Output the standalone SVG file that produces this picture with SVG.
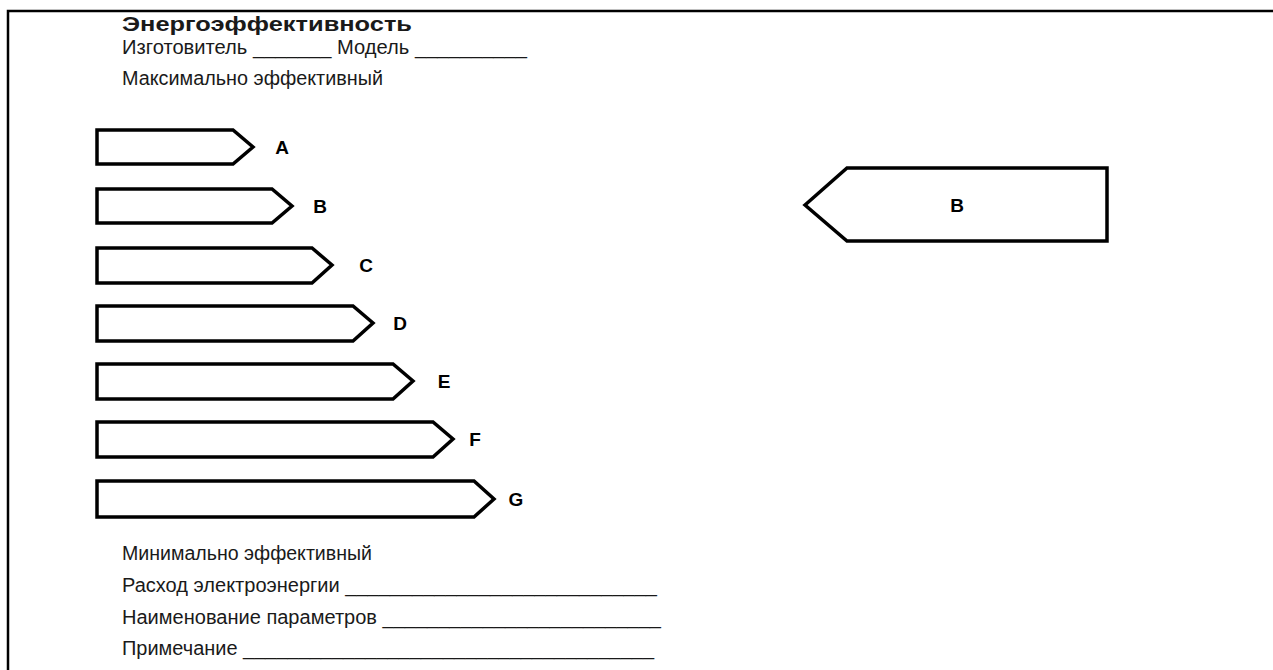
<svg xmlns="http://www.w3.org/2000/svg" width="1273" height="670" viewBox="0 0 1273 670">
  <style>
    .frame { fill: none; stroke: #000; stroke-width: 2.5; }
    .bar { fill: #fff; stroke: #000; stroke-width: 3.5; stroke-linejoin: miter; }
    .txt { font-family: "Liberation Sans", Arial, sans-serif; font-size: 20px; fill: #1a1a1a; }
    .title { font-weight: bold; }
    .cls { font-family: "Liberation Sans", Arial, sans-serif; font-size: 19px; font-weight: bold; fill: #000; text-anchor: middle; }
  </style>
  <rect width="1273" height="670" fill="#fff"/>

  <!-- page frame: top and left rules -->
  <path class="frame" d="M1273,11 H8 V670"/>

  <!-- header texts -->
  <g id="header">
    <text class="txt title" x="122" y="31" textLength="290" lengthAdjust="spacingAndGlyphs">Энергоэффективность</text>
    <text class="txt" x="122" y="54" textLength="405" lengthAdjust="spacingAndGlyphs">Изготовитель _______ Модель __________</text>
    <text class="txt" x="122" y="85" textLength="261" lengthAdjust="spacingAndGlyphs">Максимально эффективный</text>
  </g>

  <!-- efficiency class bars -->
  <g id="class-A">
    <polygon class="bar" points="97,130 233,130 253,147 233,164 97,164"/>
    <text class="cls" x="282" y="154">A</text>
  </g>
  <g id="class-B">
    <polygon class="bar" points="97,189 272,189 292,206 272,223 97,223"/>
    <text class="cls" x="320" y="213">B</text>
  </g>
  <g id="class-C">
    <polygon class="bar" points="97,248 312,248 332,265 312,283 97,283"/>
    <text class="cls" x="366" y="272">C</text>
  </g>
  <g id="class-D">
    <polygon class="bar" points="97,306 353,306 373,323 353,341 97,341"/>
    <text class="cls" x="400" y="330">D</text>
  </g>
  <g id="class-E">
    <polygon class="bar" points="97,364 393,364 413,381 393,399 97,399"/>
    <text class="cls" x="444" y="388">E</text>
  </g>
  <g id="class-F">
    <polygon class="bar" points="97,422 433,422 453,439 433,457 97,457"/>
    <text class="cls" x="475" y="446">F</text>
  </g>
  <g id="class-G">
    <polygon class="bar" points="97,481 474,481 494,499 474,517 97,517"/>
    <text class="cls" x="516" y="506">G</text>
  </g>

  <!-- current class indicator -->
  <g id="indicator">
    <polygon class="bar" points="805,205 847,168 1107,168 1107,241 847,241"/>
    <text class="cls" x="957" y="212" font-size="21">B</text>
  </g>

  <!-- footer texts -->
  <g id="footer">
    <text class="txt" x="122" y="560" textLength="250" lengthAdjust="spacingAndGlyphs">Минимально эффективный</text>
    <text class="txt" x="122" y="592" textLength="535" lengthAdjust="spacingAndGlyphs">Расход электроэнергии ____________________________</text>
    <text class="txt" x="122" y="624" textLength="539" lengthAdjust="spacingAndGlyphs">Наименование параметров _________________________</text>
    <text class="txt" x="122" y="655" textLength="532" lengthAdjust="spacingAndGlyphs">Примечание _____________________________________</text>
  </g>
</svg>
